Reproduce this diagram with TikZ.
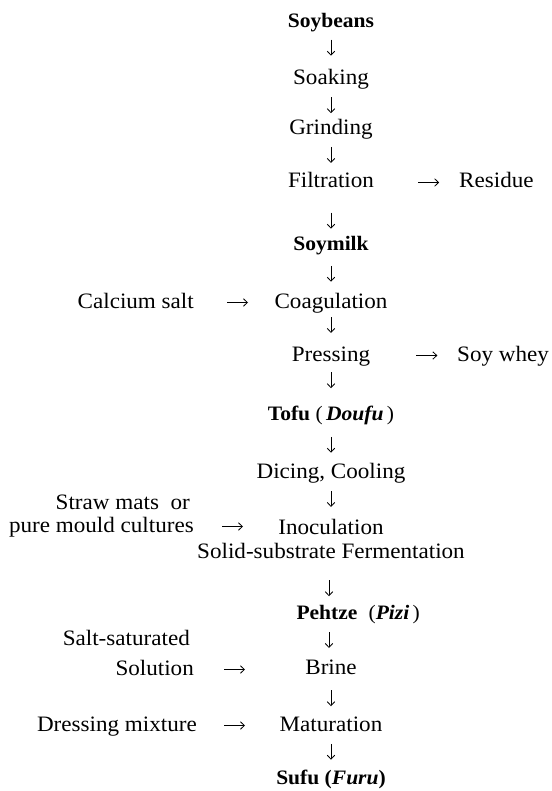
\documentclass[tikz,border=0pt]{standalone}
\usepackage{fontspec}
\setmainfont{Liberation Serif}[FakeStretch=1.05]
\usetikzlibrary{calc,arrows.meta}
\begin{document}
\begin{tikzpicture}[x=1pt,y=-1pt,
  proc/.style={inner sep=0pt, anchor=base, text height=15pt, text depth=4pt,
    font=\fontsize{22}{26}\selectfont},
  key/.style={proc, font=\fontsize{20.5}{24}\selectfont\bfseries},
  side/.style={proc, anchor=base east},
  rside/.style={proc, anchor=base west},
  arrowline/.style={line width=0.8pt, -{Straight Barb[length=4pt,width=7.5pt]}},
  varr/.style={arrowline, to path={($(\tikztostart)!0.5!(\tikztotarget)+(0,#1-8)$) -- ($(\tikztostart)!0.5!(\tikztotarget)+(0,#1+8)$)}},
  varr/.default=0,
  harr/.style={arrowline, to path={([xshift=#1pt]\tikztostart.east) -- ++(21,0)}},
  harr/.default=30]
\useasboundingbox (0,0) rectangle (551,791);
% main column
\node[key]  (soy)   at (331,28)    {Soybeans};
\node[proc] (soak)  at (331,84.5)  {Soaking};
\node[proc] (grind) at (331,135)   {Grinding};
\node[proc] (filt)  at (331,188)   {Filtration};
\node[key]  (milk)  at (331,250.5) {Soymilk};
\node[proc] (coag)  at (331,308)   {Coagulation};
\node[proc] (press) at (331,361)   {Pressing};
\node[key]  (tofu)  at (331,420.5) {Tofu {\mdseries(}\,\textit{Doufu}\,{\mdseries)}};
\node[proc] (dice)  at (331,478)   {Dicing, Cooling};
\node[proc] (inoc)  at (331,534)   {Inoculation};
\node[proc] (solid) at (331,558)   {Solid-substrate Fermentation};
\node[key]  (peh)   at (327,619.5) {Pehtze};
\node[key, anchor=base west] (pizi) at (peh.base east) {\ \ {\mdseries(}\textit{Pizi}\,{\mdseries)}};
\node[proc] (brine) at (331,674.5) {Brine};
\node[proc] (mat)   at (331,731)   {Maturation};
\node[key]  (sufu)  at (331,784.5) {Sufu (\textit{Furu})};
% side inputs and outputs
\node[rside] (res)   at (459,188) {Residue};
\node[rside] (whey)  at (457,361) {Soy whey};
\node[side]  (cal)   at (194,308) {Calcium salt};
\node[side]  (straw) at (190,509) {Straw mats\ \ or};
\node[side]  (pure)  at (194,532) {pure mould cultures};
\node[side]  (salt)  at (190,645) {Salt-saturated};
\node[side]  (sol)   at (194,675) {Solution};
\node[side]  (dress) at (197,731) {Dressing mixture};
% vertical connectors
\draw[varr=-3]   (soy)   to (soak);
\draw[varr=1]    (soak)  to (grind);
\draw[varr=-1]   (grind) to (filt);
\draw[varr=7]    (filt)  to (milk);
\draw[varr=0]    (milk)  to (coag);
\draw[varr=-4]   (coag)  to (press);
\draw[varr=-5]   (press) to (tofu);
\draw[varr=1]    (tofu)  to (dice);
\draw[varr=-1.5] (dice)  to (inoc);
\draw[varr=5]    (solid) to (peh);
\draw[varr=-1.5] (peh)   to (brine);
\draw[varr=1]    (brine) to (mat);
\draw[varr=-0.5] (mat)   to (sufu);
% horizontal connectors
\draw[harr=33] (cal)   to (coag);
\draw[harr=44] (filt)  to (res);
\draw[harr=46] (press) to (whey);
\draw[harr=28] (pure)  to (inoc);
\draw[harr=30] (sol)   to (brine);
\draw[harr=27] (dress) to (mat);
\end{tikzpicture}
\end{document}
